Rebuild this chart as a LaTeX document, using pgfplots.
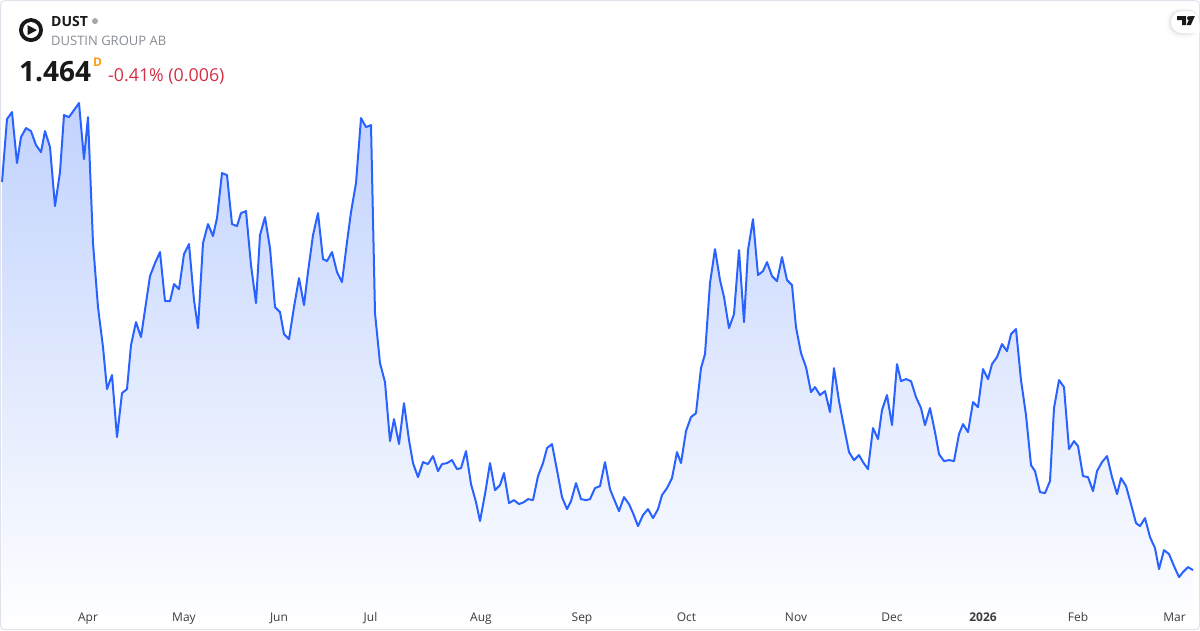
\documentclass[border=0pt]{standalone}
\usepackage{fontspec}
\setmainfont{Open Sans}
\usepackage{pgfplots}
\pgfplotsset{compat=1.18}
\usepackage{pgfplotstable}

\definecolor{tvblue}{RGB}{41,98,255}
\definecolor{tvfill}{RGB}{193,210,253}
\definecolor{tvframe}{RGB}{224,227,235}
\definecolor{tvgray}{RGB}{135,139,148}
\definecolor{tvred}{RGB}{211,47,69}
\definecolor{tvorange}{RGB}{248,157,16}
\definecolor{tvtick}{RGB}{60,60,60}

% x and height in picture units
\pgfplotstableread{
px h
2 448
7 511
12 518
17 467
21 493
26 502
31 499
36 485
41 478
45 499
50 483
55 424
60 458
64 515
69 513
74 520
79 527
84 471
88 513
93 387
98 323
103 283
107 241
112 255
117 193
122 237
127 241
131 285
136 308
141 293
146 327
150 354
155 367
160 378
165 329
170 329
174 346
179 341
184 376
189 386
194 330
198 302
203 387
208 406
213 394
217 412
222 457
227 455
232 406
237 404
241 417
246 419
251 365
256 327
260 395
265 413
270 382
275 323
280 318
284 296
289 291
294 323
299 352
304 325
308 358
313 395
318 417
323 371
327 369
332 378
337 358
342 348
347 388
351 418
356 447
361 512
366 503
371 505
375 317
380 267
385 248
390 189
394 211
399 186
404 227
409 190
413 167
418 153
423 168
428 166
433 174
438 159
442 166
447 167
452 170
457 161
461 162
466 179
471 146
476 128
480 109
485 136
490 167
495 140
500 145
504 157
509 127
514 130
519 126
524 128
528 131
533 130
538 154
543 167
547 182
552 186
557 160
562 133
567 121
571 129
576 147
581 131
586 130
590 131
595 142
600 144
605 168
610 141
614 131
619 119
624 133
629 126
633 117
638 104
643 115
648 121
653 112
658 121
662 135
667 142
672 152
677 178
681 167
686 199
691 213
696 217
701 262
705 276
710 347
715 381
720 350
724 333
729 302
734 316
739 380
744 308
748 380
753 411
758 355
763 359
767 368
772 354
777 349
782 373
787 350
792 345
796 303
801 277
806 263
811 238
815 243
820 235
825 239
830 218
834 262
839 229
844 203
849 178
854 170
859 175
863 168
868 161
873 202
878 191
882 220
887 235
892 205
897 266
901 249
906 251
911 249
916 233
921 222
925 205
930 222
935 198
939 176
944 169
949 170
954 169
959 196
963 206
968 198
973 228
978 223
983 261
988 251
992 266
997 273
1002 286
1007 279
1011 296
1016 301
1021 250
1026 215
1031 165
1035 159
1040 138
1045 137
1050 149
1054 222
1059 250
1064 243
1069 181
1074 189
1078 184
1083 154
1088 153
1093 139
1097 159
1102 168
1107 174
1112 153
1117 136
1121 152
1126 144
1131 126
1136 107
1140 104
1145 112
1150 93
1155 82
1159 61
1164 80
1169 76
1174 64
1179 53
1183 58
1188 63
1193 60
}\pricetable

\begin{document}
\begin{tikzpicture}
\begin{axis}[
	scale only axis,
	width=1200pt, height=630pt,
	xmin=0, xmax=1200, ymin=0, ymax=630,
	axis line style={draw=none},
	axis on top,
	major tick length=0pt,
	ytick=\empty,
	xtick={88,184,279,370.5,481,582,686.5,796,892,983,1078,1174.5},
	xticklabels={Apr,May,Jun,Jul,Aug,Sep,Oct,Nov,Dec,\textbf{2026},Feb,Mar},
	xticklabel style={font=\fontsize{12}{12}\selectfont, text=tvtick, anchor=base, yshift=8.3pt},
	clip=false,
]
	% area first, line on top
	\addplot[draw=none, top color=tvfill, bottom color=white] table[x=px, y=h] {\pricetable} \closedcycle;
	\addplot[tvblue, line width=2pt, line join=round, no marks] table[x=px, y=h] {\pricetable};

	% card frame
	\draw[tvframe, line width=1pt, rounded corners=4pt] (axis cs:0.5,0.5) rectangle (axis cs:1199.5,629.5);

	% header
	\fill[black!90] (axis cs:31,600) circle[radius=12pt];
	\fill[white] (axis cs:31,600) circle[radius=8pt];
	\fill[black!90] (axis cs:27.5,605) -- (axis cs:37,600) -- (axis cs:27.5,595) -- cycle;
	\node[anchor=base west, inner sep=0pt, font=\fontsize{14}{14}\selectfont\bfseries, text=black!90] at (axis cs:51,604) {DUST};
	\fill[black!35] (axis cs:95,609) circle[radius=3pt];
	\node[anchor=base west, inner sep=0pt, font=\fontsize{13}{13}\selectfont, text=tvgray] at (axis cs:51,585) {DUSTIN GROUP AB};
	\node[anchor=base west, inner sep=0pt, font=\fontsize{28}{28}\selectfont\bfseries, text=black!90] at (axis cs:19,549) {1.464};
	\node[anchor=base west, inner sep=0pt, font=\fontsize{12}{12}\selectfont\bfseries, text=tvorange] at (axis cs:93,564) {D};
	\node[anchor=base west, inner sep=0pt, font=\fontsize{17.8}{18}\selectfont, text=tvred] at (axis cs:108,549) {-0.41\% (0.006)};

	% logo tab, top right, faint shadow layers under it
	\fill[black, opacity=0.015, rounded corners=12pt] (axis cs:1166,592) rectangle (axis cs:1199.5,622);
	\fill[black, opacity=0.02, rounded corners=12pt] (axis cs:1168,594) rectangle (axis cs:1199.5,621);
	\fill[black, opacity=0.03, rounded corners=11pt] (axis cs:1169,595) rectangle (axis cs:1199.5,620);
	\fill[black, opacity=0.03, rounded corners=11pt] (axis cs:1170,596) rectangle (axis cs:1199.5,620);
	\fill[white, rounded corners=11pt] (axis cs:1171,597) -- (axis cs:1171,619) -- (axis cs:1199.5,619) [sharp corners] -- (axis cs:1199.5,597) [rounded corners=11pt] -- cycle;
	\fill[black!90] (axis cs:1177,614) -- (axis cs:1186,614) -- (axis cs:1186,605) -- (axis cs:1182,605) -- (axis cs:1182,610) -- (axis cs:1177,610) -- cycle;
	\fill[black!90] (axis cs:1189,612) circle[radius=2pt];
	\fill[black!90] (axis cs:1190.5,614) -- (axis cs:1194.8,614) -- (axis cs:1190.8,605) -- (axis cs:1186.5,605) -- cycle;
\end{axis}
\end{tikzpicture}
\end{document}
